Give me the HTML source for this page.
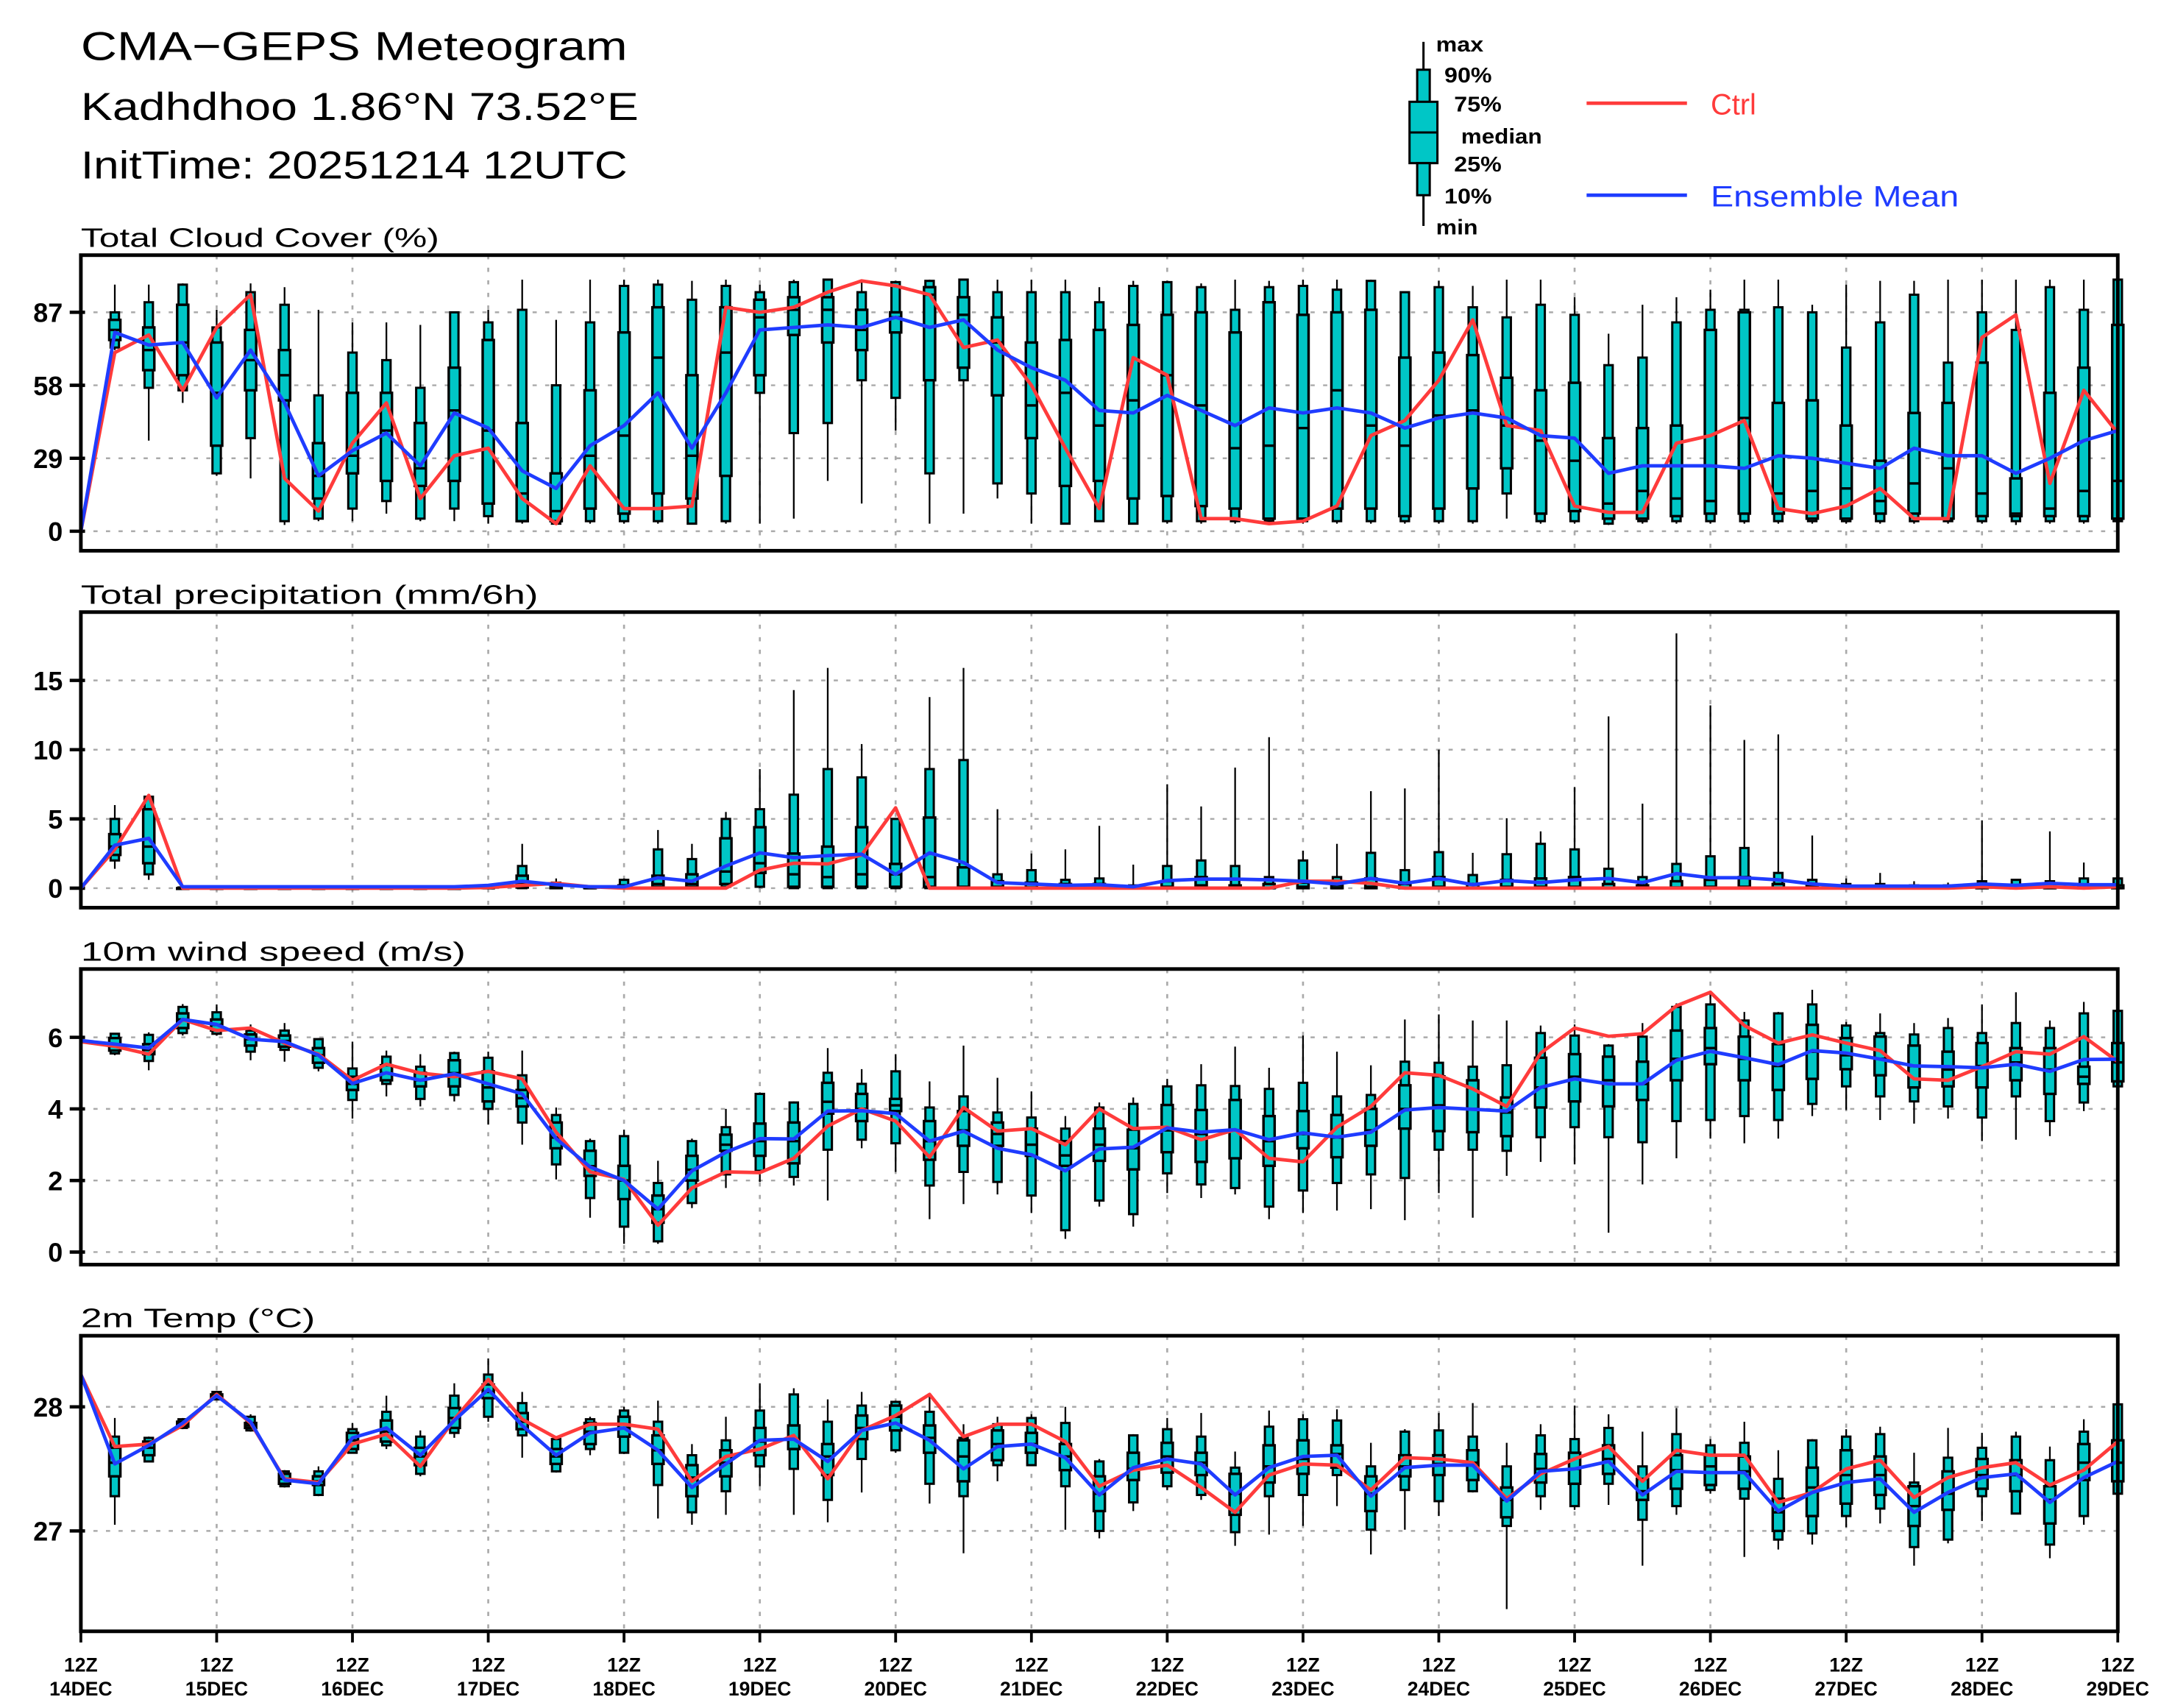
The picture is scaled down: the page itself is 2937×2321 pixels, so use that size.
<!DOCTYPE html>
<html><head><meta charset="utf-8">
<style>
html,body{margin:0;padding:0;background:#fff;}
svg{display:block;}
text{font-family:"Liberation Sans",sans-serif;}
</style></head>
<body>
<svg id="chart" xmlns="http://www.w3.org/2000/svg" width="2937" height="2321" viewBox="0 0 1550 1225" preserveAspectRatio="none">
<rect x="0" y="0" width="1550" height="1225" fill="#fff"/>
<g>
<text x="58" y="43" font-size="29" textLength="392" lengthAdjust="spacingAndGlyphs">CMA−GEPS Meteogram</text>
<text x="58" y="86" font-size="28" textLength="400" lengthAdjust="spacingAndGlyphs">Kadhdhoo 1.86°N 73.52°E</text>
<text x="58" y="128" font-size="28" textLength="392" lengthAdjust="spacingAndGlyphs">InitTime: 20251214 12UTC</text>
</g>
<g font-weight="bold" font-size="15">
<line x1="1021" y1="30" x2="1021" y2="162" stroke="#000" stroke-width="1.6"/>
<rect x="1016.5" y="50" width="9" height="67" fill="#00c6c6" stroke="#000" stroke-width="1.6"/>
<rect x="1011" y="73" width="20" height="44" fill="#00c6c6" stroke="#000" stroke-width="1.6"/>
<rect x="1016.5" y="117" width="9" height="23" fill="#00c6c6" stroke="#000" stroke-width="1.6"/>
<line x1="1011" y1="95" x2="1031" y2="95" stroke="#000" stroke-width="1.6"/>
<text x="1030" y="37" textLength="34" lengthAdjust="spacingAndGlyphs">max</text>
<text x="1036" y="59" textLength="34" lengthAdjust="spacingAndGlyphs">90%</text>
<text x="1043" y="80" textLength="34" lengthAdjust="spacingAndGlyphs">75%</text>
<text x="1048" y="103" textLength="58" lengthAdjust="spacingAndGlyphs">median</text>
<text x="1043" y="123" textLength="34" lengthAdjust="spacingAndGlyphs">25%</text>
<text x="1036" y="146" textLength="34" lengthAdjust="spacingAndGlyphs">10%</text>
<text x="1030" y="168" textLength="30" lengthAdjust="spacingAndGlyphs">min</text>
<line x1="1138" y1="74" x2="1210" y2="74" stroke="#ff3b3b" stroke-width="2.5"/>
<text x="1227" y="82" font-size="21" font-weight="normal" fill="#ff3b3b">Ctrl</text>
<line x1="1138" y1="140" x2="1210" y2="140" stroke="#1f3cff" stroke-width="2.5"/>
<text x="1227" y="148" font-size="21" font-weight="normal" fill="#1f3cff" textLength="178" lengthAdjust="spacingAndGlyphs">Ensemble Mean</text>
</g>
<g id="panels"></g>
</svg>
<script>
// ===== Shared time axis =====
const xDays = ["14DEC","15DEC","16DEC","17DEC","18DEC","19DEC","20DEC","21DEC","22DEC","23DEC","24DEC","25DEC","26DEC","27DEC","28DEC","29DEC"];

// ===== Total Cloud Cover (%) =====
const cloudTicks = [0,29,58,87];
const cloudCtrl = [0,71,78,56,81,94,21,8,35,51,13,30,33,13,3,26,9,9,10,89,87,89,95,99.5,97.5,94,73,76,58,33,9,69,62,5,5,3,4,10,38,44,60,84,42,40,10,7.5,7.5,35,38,44,9,7,10,17,5,5,77,86,19,56,39];
const cloudMean = [0,79,74,75,53,72,51,22,32,39,26,47,41,24,17,34,42,55,33,55,80,81,82,81,85,81,84,72,65,60,48,47,54,48,42,49,47,49,47,41,45,47,45,38,37,23,26,26,26,25,30,29,27,25,33,30,30,23,29,36,40];
const cloudBox = [null,
[98,87,84,80,76,73,72],[98,91,81,72,64,57,36],[98.5,98,90,75,62,56,51],[88,81,75,55,34,23,22],[98.5,95,80,68,56,37,21],
[97,90,72,62,52,4,2.5],[88,54,35,22,13,5,4],[83,71,55,30,23,9,4],[83,68,55,40,20,12,7],[82,57,43,25,18,5,4],
[87,87,65,48,20,9,4],[88,83,76,40,11,6,3],[100,88,43,15,4,4,3],[84,58,23,8,4,3,3],[100,83,56,30,9,4,3],
[100,97.5,79,38,7,4,3],[100,98,89,69,15,4,3],[99.5,92,62,30,13,3,3],[100,97.5,89,71,22,4,3],[98,95,92,85,62,55,3],
[100,99,93,88,78,39,5],[100,100,93,88,75,43,20],[100,95,88,80,72,60,11],[99.5,99,87,85,79,53,40],[100,99.5,97,94,60,23,3],
[100,100,93,86,65,60,7],[100,95,85,75,54,19,13],[100,95,75,50,37,15,3],[100,95,76,55,18,3,3],[97,91,80,42,20,4,4],
[99.5,97.5,82,52,13,3,3],[99.5,99,86,62,14,4,3],[98.5,97,87,50,10,4,3],[100,88,79,33,9,4,3],[99.5,97,91,34,5,4,3],
[100,97.5,86,41,5,4,3],[100,96,87,56,9,4,3],[100,99.5,88,42,9,4,3],[95,95,69,34,6,4,3],[99.5,97,71,46,9,4,3],
[97.5,89,70,48,17,4,3],[100,85,61,42,25,15,5],[100,90,56,36,7,4,3],[93,86,59,28,8,4,3],[78.5,66,37,11,5,3,2.5],
[90,69,41,16,5,4,3],[93,83,42,13,6,4,3],[96,88,80,12,7,4,3],[100,88,87,45,7,4,3],[100,89,51,15,7,4,3],
[90,87,52,16,5,4,3],[98,73,42,17,5,4,3],[99.5,83,28,12,7,4,3],[99.5,94,47,19,7,4,3],[100,67,51,25,5,4,3],
[100,87,67,15,6,4,3],[100,80,21,7,6,4,2.5],[100,97,55,9,6,4,3],[100,88,65,16,6,4,3],[100,100,82,20,5,4,4]];

// ===== Total precipitation (mm/6h) =====
const precipTicks = [0,5,10,15];
const precipCtrl = [0,2.8,6.7,0,0,0,0,0,0,0,0,0,0.05,0.2,0.35,0.1,0,0,0,0,1.3,1.8,1.75,2.4,5.8,0,0,0,0,0,0,0,0,0,0,0,0.5,0.5,0.35,0,0,0,0,0,0,0,0,0,0,0,0,0,0,0,0,0,0.1,0,0.1,0,0.1];
const precipMean = [0,3.1,3.6,0.1,0.1,0.1,0.1,0.1,0.1,0.1,0.1,0.1,0.2,0.5,0.25,0.1,0.1,0.75,0.5,1.6,2.55,2.2,2.35,2.45,1.0,2.55,1.85,0.4,0.3,0.2,0.25,0.1,0.55,0.65,0.65,0.6,0.5,0.3,0.7,0.35,0.7,0.25,0.55,0.4,0.6,0.7,0.4,1.05,0.75,0.75,0.6,0.3,0.15,0.15,0.15,0.15,0.3,0.2,0.35,0.25,0.25];
const precipBox = [null,
[6,5,3.9,3,2.4,2,1.4],[6.7,6.6,5.7,3,1.8,1,0.6],[0.1,0.05,0,0,0,0,0],[0.1,0.05,0,0,0,0,0],[0.1,0.05,0,0,0,0,0],
[0.1,0.05,0,0,0,0,0],[0.1,0.05,0,0,0,0,0],[0.1,0.05,0,0,0,0,0],[0.1,0.05,0,0,0,0,0],[0.1,0.05,0,0,0,0,0],
[0.1,0.05,0,0,0,0,0],[0.3,0.2,0.1,0,0,0,0],[3.2,1.6,0.9,0.3,0.05,0,0],[0.7,0.4,0.2,0.05,0,0,0],[0.2,0.1,0.05,0,0,0,0],
[0.7,0.6,0.2,0,0,0,0],[4.2,2.8,0.9,0.3,0.1,0,0],[3.2,2.1,1.0,0.3,0.1,0,0],[5.5,5,3.6,1.2,0.3,0.1,0],[8.6,5.7,4.4,1.8,1.1,0.1,0],
[14.3,6.75,2.5,1.0,0.1,0,0],[15.9,8.6,3,0.8,0.1,0,0],[10.4,8,4.4,1.0,0.1,0,0],[5,5,1.75,1.0,0.1,0,0],[13.8,8.6,5.1,0.8,0.1,0,0],
[15.9,9.25,1.5,0.1,0,0,0],[5.7,1.0,0.5,0.1,0,0,0],[2.5,1.3,0.4,0.05,0,0,0],[2.8,0.6,0.3,0,0,0,0],[4.5,0.7,0.3,0,0,0,0],
[1.7,0.2,0.1,0,0,0,0],[7.5,1.6,0.5,0.1,0,0,0],[5.9,2.0,0.8,0.2,0,0,0],[8.7,1.6,0.2,0.05,0,0,0],[10.9,0.8,0.3,0,0,0,0],
[2.7,2.0,0.4,0.1,0,0,0],[3.2,0.8,0.2,0,0,0,0],[7.0,2.55,0.7,0.1,0,0,0],[7.2,1.3,0.3,0,0,0,0],[10,2.6,0.8,0.1,0,0,0],
[2.55,0.95,0.3,0,0,0,0],[5.05,2.45,0.6,0.1,0,0,0],[4.1,3.2,0.7,0.1,0,0,0],[7.3,2.8,0.8,0.1,0,0,0],[12.4,1.4,0.3,0,0,0,0],
[6.1,0.8,0.2,0,0,0,0],[18.4,1.75,0.5,0.05,0,0,0],[13.2,2.3,0.6,0.1,0,0,0],[10.7,2.9,0.8,0.1,0,0,0],[11.1,1.1,0.3,0,0,0,0],
[3.8,0.6,0.2,0,0,0,0],[0.7,0.3,0.1,0,0,0,0],[1.1,0.3,0.1,0,0,0,0],[0.5,0.2,0.05,0,0,0,0],[0.4,0.2,0.05,0,0,0,0],
[4.9,0.5,0.1,0,0,0,0],[0.6,0.6,0.2,0,0,0,0],[4.1,0.5,0.1,0,0,0,0],[1.85,0.7,0.2,0,0,0,0],[0.7,0.7,0.2,0,0,0,0]];

// ===== 10m wind speed (m/s) =====
const windTicks = [0,2,4,6];
const windCtrl = [5.88,5.75,5.53,6.5,6.19,6.26,5.84,5.53,4.8,5.25,5.0,4.9,5.05,4.84,3.35,2.24,2.03,0.75,1.79,2.24,2.22,2.62,3.52,4.0,3.66,2.65,4.04,3.38,3.45,3.0,4.0,3.45,3.49,3.14,3.42,2.62,2.52,3.49,4.07,5.01,4.94,4.56,4.07,5.56,6.26,6.03,6.1,6.88,7.26,6.33,5.84,6.07,5.84,5.63,4.84,4.8,5.18,5.6,5.53,6.02,5.32];
const windMean = [5.91,5.81,5.7,6.5,6.36,5.95,5.88,5.5,4.71,5.01,4.8,4.98,4.7,4.42,3.17,2.38,2.0,1.2,2.27,2.79,3.17,3.16,3.94,3.95,3.87,3.1,3.38,2.9,2.72,2.27,2.88,2.93,3.47,3.35,3.42,3.14,3.33,3.21,3.35,3.97,4.04,3.99,3.94,4.6,4.84,4.7,4.7,5.36,5.61,5.43,5.24,5.63,5.56,5.39,5.2,5.18,5.15,5.25,5.05,5.38,5.39];
const windBox = [null,
[6.12,6.1,5.98,5.8,5.63,5.55,5.5],[6.14,6.07,5.81,5.65,5.53,5.34,5.08],[6.93,6.85,6.67,6.5,6.26,6.12,6.05],[6.92,6.7,6.5,6.35,6.19,6.1,6.05],[6.36,6.19,6.08,5.95,5.77,5.6,5.36],
[6.4,6.19,6.05,5.9,5.74,5.65,5.32],[5.98,5.95,5.7,5.5,5.29,5.15,5.05],[5.88,5.13,4.9,4.7,4.53,4.25,3.73],[5.63,5.46,5.22,5.0,4.8,4.7,4.35],[5.53,5.18,5.01,4.8,4.63,4.28,4.07],
[5.6,5.56,5.36,5.0,4.63,4.39,4.21],[5.6,5.43,5.05,4.6,4.21,4.0,3.56],[5.63,4.94,4.53,4.3,4.07,3.62,3.0],[4.04,3.83,3.62,3.2,2.9,2.45,2.03],[3.17,3.1,2.83,2.4,2.13,1.51,0.96],
[3.42,3.24,2.41,2.0,1.48,0.71,0.23],[2.55,1.93,1.58,1.2,0.82,0.3,0.23],[3.17,3.1,2.69,2.3,2.0,1.37,1.23],[4.0,3.49,3.28,3.0,2.83,2.17,1.79],[4.46,4.42,3.59,3.1,2.69,2.27,1.96],
[4.21,4.18,3.62,3.1,2.48,2.1,1.86],[5.7,5.01,4.73,4.2,3.87,2.86,1.44],[5.11,4.7,4.42,4.0,3.66,3.14,2.9],[5.53,5.05,4.28,4.1,3.94,3.04,2.24],[4.77,4.04,3.66,3.1,2.58,1.86,0.92],
[5.77,4.35,3.94,3.4,2.97,2.24,1.34],[4.87,3.9,3.62,3.3,2.97,1.96,1.61],[4.49,3.76,3.45,3.0,2.69,1.58,1.09],[3.8,3.45,3.1,2.7,2.41,0.61,0.37],[4.18,4.04,3.45,3.0,2.55,1.44,1.27],
[4.32,4.14,3.42,2.9,2.31,1.06,0.71],[4.84,4.63,4.11,3.4,2.79,2.2,1.65],[5.25,4.66,3.97,3.3,2.52,1.89,1.51],[5.74,4.64,4.25,3.4,2.62,1.79,1.61],[5.15,4.56,3.8,3.1,2.41,1.27,0.92],
[6.05,4.73,3.94,3.3,2.9,1.72,1.09],[5.6,4.35,3.83,3.2,2.65,1.93,1.16],[5.22,4.39,4.0,3.4,2.97,2.17,1.2],[6.5,5.32,4.66,4.0,3.45,2.07,0.89],[6.64,5.29,4.91,4.1,3.38,2.86,1.65],
[6.47,5.18,4.8,4.0,3.35,2.86,0.96],[6.47,5.22,4.32,3.9,3.24,2.83,2.13],[6.33,6.12,5.43,4.6,4.04,3.21,2.52],[6.36,6.05,5.53,4.9,4.21,3.49,2.45],[5.81,5.77,5.46,4.8,4.07,3.21,0.54],
[6.4,6.02,5.32,4.7,4.25,3.07,1.89],[6.95,6.85,6.19,5.4,4.8,3.66,2.62],[7.3,6.92,6.26,5.7,5.25,3.69,3.17],[6.71,6.47,6.02,5.4,4.8,3.8,3.04],[6.71,6.67,5.81,5.2,4.53,3.69,3.17],
[7.33,6.92,6.35,5.6,4.84,4.14,3.8],[6.43,6.33,5.98,5.5,5.11,4.63,3.97],[6.67,6.12,6.02,5.4,4.94,4.35,3.69],[6.4,6.08,5.77,5.2,4.6,4.21,3.59],[6.54,6.26,5.6,5.1,4.63,4.07,3.73],
[6.92,6.12,5.84,5.2,4.6,3.76,3.1],[7.26,6.4,5.7,5.3,4.8,4.35,3.14],[6.47,6.26,5.7,5.1,4.42,3.66,3.24],[6.99,6.67,5.18,4.9,4.7,4.18,3.94],[6.78,6.74,5.84,5.3,4.77,4.63,4.6]];

// ===== 2m Temp (°C) =====
const tempTicks = [27,28];
const tempCtrl = [28.26,27.68,27.70,27.85,28.10,27.87,27.42,27.39,27.70,27.78,27.52,27.90,28.22,27.90,27.75,27.86,27.86,27.82,27.40,27.60,27.66,27.77,27.42,27.81,27.93,28.10,27.76,27.86,27.86,27.72,27.36,27.49,27.53,27.35,27.15,27.45,27.54,27.53,27.33,27.59,27.58,27.55,27.26,27.46,27.58,27.68,27.40,27.65,27.61,27.61,27.23,27.31,27.50,27.57,27.27,27.43,27.51,27.55,27.37,27.49,27.72];
const tempMean = [28.26,27.54,27.69,27.87,28.09,27.88,27.41,27.38,27.75,27.83,27.61,27.89,28.14,27.85,27.61,27.79,27.83,27.65,27.35,27.54,27.73,27.74,27.56,27.81,27.87,27.73,27.50,27.68,27.70,27.59,27.29,27.51,27.58,27.54,27.29,27.51,27.60,27.61,27.28,27.51,27.53,27.53,27.24,27.48,27.50,27.56,27.29,27.48,27.47,27.47,27.16,27.31,27.39,27.42,27.15,27.31,27.43,27.46,27.23,27.43,27.56];
const tempBox = [null,
[27.91,27.76,27.67,27.55,27.44,27.28,27.05],[27.76,27.75,27.72,27.67,27.61,27.56,27.56],[27.91,27.90,27.88,27.86,27.84,27.83,27.82],[28.13,28.12,28.10,28.09,28.07,28.06,28.06],[27.94,27.92,27.87,27.85,27.83,27.81,27.80],
[27.49,27.48,27.46,27.42,27.38,27.36,27.35],[27.52,27.48,27.44,27.40,27.37,27.29,27.28],[27.87,27.82,27.79,27.73,27.66,27.63,27.63],[28.09,27.96,27.89,27.80,27.72,27.69,27.66],[27.81,27.76,27.67,27.60,27.53,27.46,27.44],
[28.19,28.09,27.99,27.91,27.83,27.79,27.75],[28.39,28.26,28.18,28.12,28.07,27.92,27.88],[28.12,28.03,27.95,27.88,27.82,27.77,27.59],[27.75,27.74,27.66,27.60,27.54,27.48,27.47],[27.92,27.90,27.87,27.80,27.70,27.66,27.61],
[28.00,27.97,27.92,27.83,27.76,27.63,27.62],[28.05,27.88,27.77,27.65,27.54,27.37,27.10],[27.70,27.61,27.53,27.43,27.28,27.15,27.05],[27.92,27.73,27.65,27.55,27.44,27.32,27.13],[28.19,27.97,27.83,27.72,27.61,27.52,27.36],
[28.15,28.10,27.85,27.74,27.66,27.50,27.13],[28.06,27.88,27.70,27.60,27.45,27.25,27.07],[28.12,28.01,27.93,27.83,27.74,27.58,27.31],[28.05,28.04,28.01,27.92,27.81,27.65,27.63],[28.10,27.96,27.85,27.75,27.63,27.38,27.22],
[27.86,27.75,27.73,27.60,27.40,27.28,26.82],[27.92,27.86,27.81,27.70,27.57,27.53,27.40],[27.94,27.91,27.79,27.70,27.63,27.53,27.53],[28.00,27.87,27.70,27.60,27.49,27.36,27.01],[27.58,27.56,27.44,27.30,27.16,27.00,26.94],
[27.78,27.77,27.63,27.50,27.41,27.23,27.16],[27.91,27.82,27.71,27.60,27.47,27.36,27.33],[27.95,27.76,27.63,27.55,27.45,27.29,27.25],[27.64,27.51,27.46,27.30,27.13,26.99,26.88],[27.97,27.84,27.69,27.52,27.39,27.28,26.97],
[27.94,27.90,27.73,27.58,27.46,27.29,27.04],[27.98,27.89,27.69,27.62,27.51,27.45,27.20],[27.71,27.52,27.44,27.30,27.16,27.01,26.81],[27.82,27.80,27.61,27.52,27.44,27.33,27.01],[27.95,27.81,27.61,27.54,27.45,27.24,27.12],
[28.03,27.76,27.65,27.55,27.41,27.32,27.31],[27.71,27.52,27.35,27.25,27.11,27.04,26.37],[27.86,27.77,27.62,27.50,27.39,27.28,27.17],[28.01,27.74,27.63,27.50,27.38,27.20,27.17],[27.94,27.83,27.69,27.58,27.46,27.38,27.21],
[27.80,27.52,27.42,27.32,27.25,27.09,26.72],[27.99,27.78,27.61,27.49,27.34,27.20,27.13],[27.74,27.69,27.61,27.52,27.37,27.33,27.30],[27.88,27.71,27.60,27.48,27.34,27.26,26.79],[27.65,27.42,27.26,27.15,27.00,26.93,26.85],
[27.74,27.73,27.51,27.35,27.12,26.98,26.89],[27.82,27.76,27.65,27.45,27.22,27.12,27.03],[27.84,27.78,27.60,27.45,27.29,27.18,27.06],[27.63,27.39,27.36,27.20,27.04,26.87,26.72],[27.83,27.59,27.48,27.30,27.17,26.93,26.90],
[27.79,27.67,27.58,27.45,27.34,27.28,27.08],[27.80,27.76,27.57,27.45,27.32,27.14,27.14],[27.68,27.57,27.36,27.25,27.06,26.89,26.78],[27.90,27.80,27.70,27.55,27.41,27.12,27.05],[28.03,28.02,27.73,27.55,27.40,27.30,27.30]];

// ===== Layout (not data) =====
const NS = "http://www.w3.org/2000/svg";
const X0 = 58, X1 = 1519, NSTEP = 60;
function xScale(i){ return X0 + (X1 - X0) * i / NSTEP; }
function mk(tag, attrs, parent){
  const e = document.createElementNS(NS, tag);
  for (const k in attrs) e.setAttribute(k, attrs[k]);
  parent.appendChild(e);
  return e;
}
const root = document.getElementById('panels');
const TEAL = "#00c6c6", RED = "#ff3b3b", BLUE = "#1f3cff";

function drawPanel(cfg){
  const g = mk('g', {}, root);
  
  
  const yScale = v => cfg.yb - (v - cfg.v0) * (cfg.yb - cfg.yt) / (cfg.v1 - cfg.v0);
  const t = mk('text', {x: 58, y: cfg.top - 6, 'font-size': 19, textLength: cfg.titleLen, lengthAdjust: 'spacingAndGlyphs'}, g);
  t.textContent = cfg.title;
  
  
  cfg.ticks.forEach(v => {
    const y = yScale(v);
    const gl = mk('line', {x1: X0, x2: X1, y1: y, y2: y, stroke: '#aaa', 'stroke-width': 1.3, 'stroke-dasharray': '3 6'}, g);
    
    
    mk('line', {x1: X0 - 8, x2: X0 + 3, y1: y, y2: y, stroke: '#000', 'stroke-width': 2.4}, g);
    const lb = mk('text', {x: 45, y: y + 7, 'font-size': 19, 'font-weight': 'bold', 'text-anchor': 'end'}, g);
    lb.textContent = String(v);
    
    
  });
  for (let d = 1; d < xDays.length - 1; d++) {
    const x = xScale(d * 4);
    const vl = mk('line', {x1: x, x2: x, y1: cfg.top, y2: cfg.bottom, stroke: '#aaa', 'stroke-width': 1.4, 'stroke-dasharray': '3 6'}, g);
    
    
  }
  cfg.box.forEach((b, i) => {
    if (!b) return;
    const x = xScale(i);
    const bg = mk('g', {}, g);
    
    
    const [mx, p90, p75, md, p25, p10, mn] = b;
    mk('line', {x1: x, x2: x, y1: yScale(mx), y2: yScale(mn), stroke: '#000', 'stroke-width': 1.2}, bg);
    const yn1 = yScale(p90), yn2 = yScale(p10);
    mk('rect', {x: x - 3, y: yn1, width: 6, height: Math.max(0.5, yn2 - yn1), fill: TEAL, stroke: '#000', 'stroke-width': 1.6}, bg);
    const yw1 = yScale(p75), yw2 = yScale(p25);
    mk('rect', {x: x - 4, y: yw1, width: 8, height: Math.max(0.5, yw2 - yw1), fill: TEAL, stroke: '#000', 'stroke-width': 1.8}, bg);
    mk('line', {x1: x - 4, x2: x + 4, y1: yScale(md), y2: yScale(md), stroke: '#000', 'stroke-width': 1.8}, bg);
  });
  const path = arr => arr.map((v, i) => (i ? 'L' : 'M') + xScale(i).toFixed(2) + ' ' + yScale(v).toFixed(2)).join(' ');
  const rl = mk('path', {d: path(cfg.ctrl), fill: 'none', stroke: RED, 'stroke-width': 2.5, 'stroke-linejoin': 'round'}, g);
  
  
  const bl = mk('path', {d: path(cfg.mean), fill: 'none', stroke: BLUE, 'stroke-width': 2.5, 'stroke-linejoin': 'round'}, g);
  
  
  const fr = mk('rect', {x: X0, y: cfg.top, width: X1 - X0, height: cfg.bottom - cfg.top, fill: 'none', stroke: '#000', 'stroke-width': 2.6}, g);
  
  
}

drawPanel({name: 'cloud', title: 'Total Cloud Cover (%)', titleLen: 257, top: 183, bottom: 395, v0: 0, v1: 87, yb: 381, yt: 224, ticks: cloudTicks, box: cloudBox, ctrl: cloudCtrl, mean: cloudMean});
drawPanel({name: 'precip', title: 'Total precipitation (mm/6h)', titleLen: 328, top: 439, bottom: 651, v0: 0, v1: 15, yb: 637, yt: 488, ticks: precipTicks, box: precipBox, ctrl: precipCtrl, mean: precipMean});
drawPanel({name: 'wind', title: '10m wind speed (m/s)', titleLen: 276, top: 695, bottom: 907, v0: 0, v1: 6, yb: 898, yt: 744, ticks: windTicks, box: windBox, ctrl: windCtrl, mean: windMean});
drawPanel({name: 'temp', title: '2m Temp (°C)', titleLen: 168, top: 958, bottom: 1170, v0: 27, v1: 28, yb: 1098, yt: 1009, ticks: tempTicks, box: tempBox, ctrl: tempCtrl, mean: tempMean});

const xa = mk('g', {}, root);


xDays.forEach((d, k) => {
  const x = xScale(k * 4);
  mk('line', {x1: x, x2: x, y1: 1170, y2: 1178, stroke: '#000', 'stroke-width': 2}, xa);
  const a = mk('text', {x: x, y: 1199, 'font-size': 14, 'font-weight': 'bold', 'text-anchor': 'middle'}, xa);
  a.textContent = '12Z';
  
  
  const b = mk('text', {x: x, y: 1216, 'font-size': 14, 'font-weight': 'bold', 'text-anchor': 'middle'}, xa);
  b.textContent = d;
  
  
});
</script>
</body></html>
